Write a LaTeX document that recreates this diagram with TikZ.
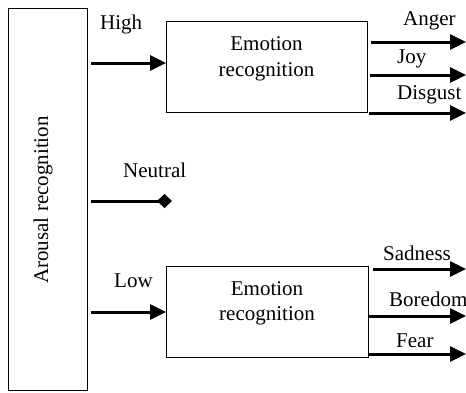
\documentclass[tikz,border=0pt]{standalone}
\usepackage{fontspec}
\setmainfont{Liberation Serif}
\usetikzlibrary{arrows.meta}
\begin{document}
\begin{tikzpicture}[x=1pt,y=-1pt,
  box/.style={draw,line width=1pt,inner sep=0pt,anchor=north west},
  lbl/.style={anchor=base west,inner sep=0pt,font=\fontsize{21}{26}\selectfont},
  ctr/.style={anchor=base,inner sep=0pt,font=\fontsize{21}{26}\selectfont},
  arr/.style={line width=3pt,-{Triangle[length=16pt,width=15pt]}},
  dia/.style={line width=3pt,-{Diamond[length=15pt,width=14pt]}}]
\useasboundingbox (0,0) rectangle (466,392);
% left box
\node[box,minimum width=79pt,minimum height=382pt] (arousal) at (8,8) {};
\node[ctr,rotate=90] (arousaltxt) at (48,200) {Arousal recognition};
% upper emotion box
\node[box,minimum width=201pt,minimum height=91pt] (emo1) at (166,21) {};
\node[ctr] (emo1a) at (266.5,50) {Emotion};
\node[ctr] (emo1b) at (266.5,76) {recognition};
% lower emotion box
\node[box,minimum width=202pt,minimum height=91pt] (emo2) at (166,266) {};
\node[ctr] (emo2a) at (267,295) {Emotion};
\node[ctr] (emo2b) at (267,320) {recognition};
% left connectors
\coordinate (hs) at (91,63);
\coordinate (ns) at (91,201);
\coordinate (ne) at (172,201);
\coordinate (ls) at (91,312);
\draw[arr] (hs) -- (emo1.west |- hs);
\draw[dia] (ns) -- (ne);
\draw[arr] (ls) -- (emo2.west |- ls);
\node[lbl] (high) at (100,29) {High};
\node[lbl] (neutral) at (123,177) {Neutral};
\node[lbl] (low) at (114,287) {Low};
% upper outputs
\coordinate (a1) at (371,42);  \coordinate (a2) at (466,42);
\coordinate (j1) at (370,75);  \coordinate (j2) at (466,75);
\coordinate (d1) at (369,113); \coordinate (d2) at (466,113);
\draw[arr] (a1) -- (a2);
\draw[arr] (j1) -- (j2);
\draw[arr] (d1) -- (d2);
\node[lbl] (anger) at (403,25) {Anger};
\node[lbl] (joy) at (397,63) {Joy};
\node[lbl] (disgust) at (397,99) {Disgust};
% lower outputs
\coordinate (s1) at (373,269); \coordinate (s2) at (466,269);
\coordinate (b1) at (368,316); \coordinate (b2) at (466,316);
\coordinate (f1) at (368,354); \coordinate (f2) at (466,354);
\draw[arr] (s1) -- (s2);
\draw[arr] (b1) -- (b2);
\draw[arr] (f1) -- (f2);
\node[lbl] (sadness) at (383,260) {Sadness};
\node[lbl] (boredom) at (389,306) {Boredom};
\node[lbl] (fear) at (396,347) {Fear};
\end{tikzpicture}
\end{document}
